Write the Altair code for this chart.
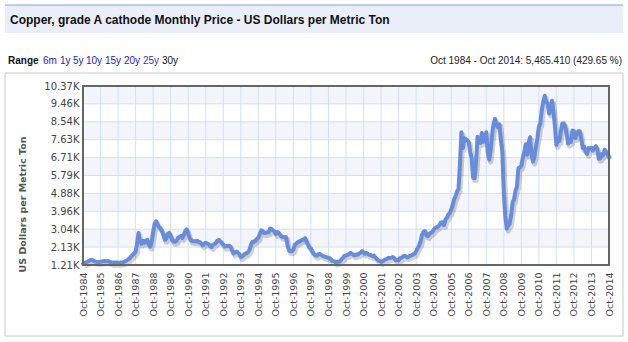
import altair as alt
import pandas as pd

# ---------------- data ----------------
title_text = "Copper, grade A cathode Monthly Price - US Dollars per Metric Ton"
summary_text = "Oct 1984 - Oct 2014: 5,465.410 (429.65 %)"
range_labels = ["6m", "1y", "5y", "10y", "15y", "20y", "25y", "30y"]
y_title = "US Dollars per Metric Ton"

# monthly prices, Oct 1984 .. Oct 2014
p1984 = [1272, 1330, 1340]
p1985 = [1380, 1420, 1460, 1480, 1440, 1400, 1370, 1360, 1360, 1380, 1390, 1400]
p1986 = [1410, 1400, 1410, 1380, 1350, 1340, 1330, 1340, 1340, 1330, 1330, 1340]
p1987 = [1350, 1370, 1400, 1450, 1500, 1560, 1650, 1720, 1800, 1900, 2300, 2850]
p1988 = [2400, 2300, 2450, 2350, 2450, 2500, 2250, 2150, 2400, 2900, 3300, 3450]
p1989 = [3300, 3150, 3100, 2950, 2750, 2500, 2550, 2800, 2850, 2700, 2500, 2400]
p1990 = [2400, 2450, 2600, 2650, 2700, 2600, 2750, 2950, 3030, 2800, 2600, 2460]
p1991 = [2450, 2420, 2420, 2450, 2400, 2380, 2300, 2220, 2300, 2350, 2300, 2280]
p1992 = [2180, 2130, 2250, 2280, 2350, 2450, 2500, 2420, 2350, 2250, 2150, 2200]
p1993 = [2170, 2200, 2150, 1950, 1800, 1850, 1900, 1850, 1760, 1620, 1650, 1720]
p1994 = [1800, 1800, 1880, 2000, 2250, 2400, 2400, 2450, 2550, 2600, 2800, 2980]
p1995 = [2950, 2850, 2850, 2880, 2880, 3070, 3050, 2980, 2930, 2800, 2900, 2850]
p1996 = [2750, 2650, 2650, 2630, 2640, 2200, 1950, 1920, 1920, 2000, 2250, 2300]
p1997 = [2380, 2400, 2450, 2500, 2500, 2580, 2400, 2250, 2100, 2050, 1900, 1780]
p1998 = [1700, 1680, 1750, 1780, 1730, 1680, 1650, 1620, 1600, 1570, 1560, 1460]
p1999 = [1420, 1400, 1330, 1380, 1370, 1400, 1520, 1580, 1680, 1700, 1720, 1770]
p2000 = [1830, 1790, 1740, 1700, 1750, 1740, 1790, 1850, 1920, 1860, 1790, 1830]
p2001 = [1780, 1730, 1720, 1660, 1700, 1600, 1520, 1450, 1420, 1370, 1400, 1450]
p2002 = [1500, 1520, 1580, 1570, 1590, 1620, 1560, 1450, 1450, 1440, 1560, 1580]
p2003 = [1650, 1680, 1640, 1600, 1640, 1680, 1710, 1760, 1790, 1920, 2060, 2200]
p2004 = [2420, 2740, 2900, 2950, 2730, 2690, 2800, 2850, 2900, 3010, 3100, 3140]
p2005 = [3170, 3250, 3380, 3400, 3250, 3520, 3620, 3800, 3850, 4050, 4270, 4570]
p2006 = [4730, 4980, 5100, 6380, 8000, 7200, 7700, 7650, 7600, 7500, 7000, 6670]
p2007 = [5670, 5650, 6450, 7770, 7650, 7450, 7970, 7510, 7650, 8000, 6970, 6600]
p2008 = [7060, 7890, 8440, 8690, 8380, 8260, 8410, 7630, 6990, 4930, 3720, 3070]
p2009 = [3220, 3310, 3750, 4410, 4570, 5010, 5220, 6170, 6200, 6290, 6680, 6980]
p2010 = [7390, 6850, 7460, 7750, 6840, 6500, 6750, 7280, 7710, 8290, 8470, 9150]
p2011 = [9560, 9870, 9530, 9490, 8960, 9070, 9620, 9040, 8300, 7350, 7580, 7560]
p2012 = [8040, 8440, 8460, 8290, 7950, 7420, 7580, 7510, 8090, 8060, 7710, 7960]
p2013 = [8050, 8060, 7650, 7200, 7250, 7000, 6900, 7190, 7160, 7200, 7070, 7210]
p2014 = [7290, 7150, 6650, 6670, 6890, 6820, 7110, 7000, 6870, 6737]

copper_prices = (p1984 + p1985 + p1986 + p1987 + p1988 + p1989 + p1990 + p1991 +
                 p1992 + p1993 + p1994 + p1995 + p1996 + p1997 + p1998 + p1999 +
                 p2000 + p2001 + p2002 + p2003 + p2004 + p2005 + p2006 + p2007 +
                 p2008 + p2009 + p2010 + p2011 + p2012 + p2013 + p2014)

y_tick_values = [1210, 2126, 3042, 3958, 4874, 5790, 6706, 7622, 8538, 9454, 10370]
y_tick_labels = ["1.21K", "2.13K", "3.04K", "3.96K", "4.88K", "5.79K",
                 "6.71K", "7.63K", "8.54K", "9.46K", "10.37K"]
x_tick_years = list(range(1984, 2015))
x_tick_labels = [f"Oct-{y}" for y in x_tick_years]

# ---------------- tables ----------------
dates = pd.date_range("1984-10-01", periods=len(copper_prices), freq="MS")
df = pd.DataFrame({"m": list(range(len(copper_prices))),
                   "price": copper_prices,
                   "date": dates.strftime("%b-%Y")})
x_tick_months = [12 * (y - 1984) for y in x_tick_years]
bands = pd.DataFrame({"lo": y_tick_values[:-1], "hi": y_tick_values[1:],
                      "shaded": [i % 2 == 1 for i in range(len(y_tick_values) - 1)]})
bands = bands[bands["shaded"]]
hgrid = pd.DataFrame({"price": y_tick_values})
vgrid = pd.DataFrame({"m": x_tick_months})
one = pd.DataFrame({"k": [0]})

W, H = 526, 179
FONT_AX = "DejaVu Sans"
FONT_TX = "Liberation Sans"

x_scale = alt.Scale(domain=[0, 360], nice=False, zero=False)
y_scale = alt.Scale(domain=[y_tick_values[0], y_tick_values[-1]], nice=False, zero=False)

x_label_expr = "[" + ",".join(f"'{s}'" for s in x_tick_labels) + "][round(datum.value/12)]"
y_label_expr = ("[" + ",".join(f"'{s}'" for s in y_tick_labels) + "]"
                f"[round((datum.value-{y_tick_values[0]})/{(y_tick_values[-1]-y_tick_values[0])/10})]")

x_axis = alt.Axis(values=x_tick_months, labelExpr=x_label_expr, labelAngle=270,
                  labelFont=FONT_AX, labelFontSize=9.5, labelColor="#444",
                  ticks=False, domain=False, grid=False, labelPadding=7,
                  labelOverlap=False, labelFlush=False, title=None)
y_axis = alt.Axis(values=y_tick_values, labelExpr=y_label_expr,
                  labelFont=FONT_AX, labelFontSize=10, labelColor="#444",
                  ticks=False, domain=False, grid=False, labelPadding=4,
                  labelOverlap=False, labelFlush=False,
                  title=y_title, titleFont=FONT_AX, titleFontSize=9.5,
                  titleFontWeight="bold", titleColor="#555",
                  titleAngle=270, titleAlign="center", titleBaseline="middle",
                  titleX=-61, titleY=118)

X = lambda f: alt.X(f, scale=x_scale, axis=x_axis)
Y = lambda f: alt.Y(f, scale=y_scale, axis=y_axis)

# outer panel frame and title band
panel = alt.Chart(one).mark_rect(fillOpacity=0, stroke="#c9c9c9", strokeWidth=1).encode(
    x=alt.value(-78), x2=alt.value(540), y=alt.value(-13), y2=alt.value(250))
title_band = alt.Chart(one).mark_rect(fill="#e9eef8").encode(
    x=alt.value(-78), x2=alt.value(540), y=alt.value(-81), y2=alt.value(-53))
title_line = alt.Chart(one).mark_rule(stroke="#86a2d8", strokeWidth=1).encode(
    x=alt.value(-78), x2=alt.value(540), y=alt.value(-81))
title = alt.Chart(one).mark_text(align="left", baseline="middle", font=FONT_TX,
                                 fontSize=12, fontWeight="bold", color="#111").encode(
    x=alt.value(-73), y=alt.value(-66), text=alt.value(title_text))
summary = alt.Chart(one).mark_text(align="right", baseline="middle", font=FONT_TX,
                                   fontSize=10, color="#222").encode(
    x=alt.value(539), y=alt.value(-25), text=alt.value(summary_text))
range_word = alt.Chart(one).mark_text(align="left", baseline="middle", font=FONT_TX,
                                      fontSize=10, fontWeight="bold", color="#111").encode(
    x=alt.value(-75), y=alt.value(-25), text=alt.value("Range"))
range_x = [-40, -23, -10, 3, 22, 41, 60, 79]
range_colors = ["#1a1acc"] * 6 + ["#3b3b9a", "#111111"]
range_layers = [
    alt.Chart(one).mark_text(align="left", baseline="middle", font=FONT_TX,
                             fontSize=10, color=c).encode(
        x=alt.value(px), y=alt.value(-25), text=alt.value(lab))
    for lab, px, c in zip(range_labels, range_x, range_colors)
]

# plot internals
band_layer = alt.Chart(bands).mark_rect(fill="#f3f5fb").encode(
    y=Y("lo:Q"), y2="hi:Q", x=alt.value(0), x2=alt.value(W))
hgrid_layer = alt.Chart(hgrid).mark_rule(stroke="#d3dff6", strokeWidth=1).encode(
    y=Y("price:Q"), x=alt.value(0), x2=alt.value(W))
vgrid_layer = alt.Chart(vgrid).mark_rule(stroke="#d3dff6", strokeWidth=1).encode(
    x=X("m:Q"), y=alt.value(0), y2=alt.value(H))
shadow = alt.Chart(df).mark_line(color="#000000", opacity=0.18, strokeWidth=5,
                                 xOffset=1.5, yOffset=2.5, strokeJoin="round").encode(
    x=X("m:Q"), y=Y("price:Q"))
line = alt.Chart(df).mark_line(color="#668cda", strokeWidth=4, strokeJoin="round",
                               strokeCap="round").encode(
    x=X("m:Q"), y=Y("price:Q"), tooltip=["date:N", "price:Q"])
frame = alt.Chart(one).mark_rect(fillOpacity=0, stroke="#666666", strokeWidth=2).encode(
    x=alt.value(0), x2=alt.value(W), y=alt.value(0), y2=alt.value(H))

chart = alt.layer(
    panel, title_band, title_line, title, summary, range_word, *range_layers,
    band_layer, hgrid_layer, vgrid_layer, shadow, line, frame
).properties(
    width=W, height=H,
    autosize=alt.AutoSizeParams(type="none"),
    padding={"left": 83, "top": 86, "right": 19, "bottom": 77},
    background="white",
).configure_view(strokeWidth=0)

chart.save("out.html", embed_options={"renderer": "svg", "actions": False})
